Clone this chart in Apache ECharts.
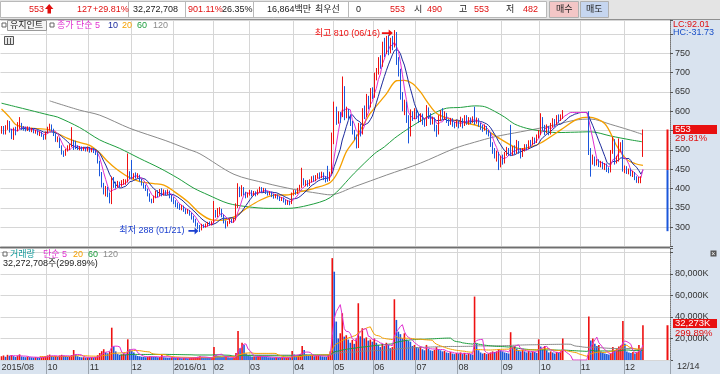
<!DOCTYPE html>
<html><head><meta charset="utf-8">
<script src="https://cdn.jsdelivr.net/npm/echarts@6/dist/echarts.min.js"></script>
<style>html,body{margin:0;padding:0;background:#fff}#c{width:720px;height:374px}</style>
</head><body><div id="c"></div>
<script>
// ---------------- DATA ----------------
// candles: [open, close, low, high] per trading day (2015-08-27 .. 2016-12-14)
const candles = [
[548,558,542,562],[558,545,540,562],[545,560,540,564],[560,570,552,577],[570,548,545,575],[548,534,528,555],[540,555,526,558],[555,545,538,560],[550,565,548,572],[558,566,555,585],
[566,557,552,570],[557,556,550,562],[556,552,548,560],[552,558,549,561],[558,550,547,560],[550,553,546,557],[553,547,543,556],[547,549,542,552],[549,541,538,551],[541,545,536,548],
[545,538,534,547],[538,530,526,540],[531,545,527,548],[545,556,543,560],[556,562,550,568],[562,552,548,566],[552,540,536,555],[540,528,521,543],[528,530,520,535],[530,510,505,532],
[510,495,488,512],[495,486,482,498],[488,500,485,503],[500,508,496,512],[505,512,500,515],[512,520,508,559],[520,505,500,526],[518,508,502,524],[508,503,500,512],[503,506,499,510],
[506,502,497,509],[502,504,498,508],[504,500,496,507],[500,505,496,509],[505,498,493,508],[498,502,494,506],[502,497,492,505],[497,491,487,500],[491,470,465,494],[470,440,432,472],
[440,410,403,443],[410,395,385,415],[395,402,380,407],[402,385,378,405],[385,370,362,390],[368,420,360,431],[420,410,402,430],[410,405,400,418],[405,412,403,420],[412,408,403,418],
[408,415,405,422],[415,418,410,425],[415,420,410,424],[420,440,416,491],[440,432,425,445],[432,428,424,474],[428,436,425,440],[436,430,426,442],[430,434,427,440],[434,422,418,436],
[422,412,408,425],[412,405,400,416],[405,398,394,410],[398,385,380,400],[385,370,366,388],[370,365,362,374],[366,378,363,382],[378,390,375,395],[390,383,378,396],[383,392,380,399],
[392,385,380,401],[385,393,382,398],[393,388,383,396],[388,392,384,398],[392,380,375,395],[380,372,366,384],[372,365,360,378],[365,360,352,370],[360,355,348,364],[355,350,345,360],
[350,352,344,358],[352,345,340,356],[345,340,334,349],[340,342,335,347],[342,335,330,345],[335,325,320,338],[325,318,312,330],[318,308,302,322],[308,300,295,312],[300,296,288,306],
[296,305,292,309],[305,302,298,308],[302,306,299,310],[306,310,302,314],[310,308,304,315],[308,312,305,316],[312,340,310,368],[340,330,325,345],[330,338,326,350],[338,345,333,352],
[345,330,326,348],[330,315,310,333],[315,305,297,318],[305,312,302,316],[312,318,309,322],[318,315,311,322],[315,320,312,325],[320,355,318,362],[355,395,350,414],[395,385,378,405],
[385,400,380,409],[400,388,383,404],[388,380,375,392],[380,386,377,390],[386,392,382,397],[392,384,380,396],[384,390,381,394],[390,385,380,393],[385,395,383,398],[395,400,390,405],
[400,394,390,404],[394,398,391,402],[398,390,386,401],[390,386,382,393],[386,390,383,393],[390,382,378,392],[382,378,374,386],[378,383,375,386],[383,376,372,385],[376,372,368,380],
[372,375,368,378],[375,368,364,377],[368,362,358,372],[362,366,358,370],[366,360,357,369],[362,385,360,390],[385,392,382,397],[392,388,384,396],[388,398,386,402],[398,405,395,410],
[405,420,402,454],[420,412,408,427],[412,418,406,422],[418,410,405,422],[410,420,407,424],[420,428,416,432],[428,422,418,434],[422,430,419,435],[430,436,426,440],[436,430,425,442],
[430,438,427,444],[438,428,422,442],[428,420,416,432],[435,425,418,459],[425,440,420,444],[442,525,438,545],[525,600,515,625],[600,575,565,612],[575,590,568,600],[590,580,570,598],
[590,675,585,690],[660,590,577,665],[590,600,582,612],[600,585,578,606],[585,570,562,592],[570,548,540,575],[548,535,525,552],[535,510,504,540],[512,560,505,570],[560,545,535,568],
[545,600,540,608],[600,590,580,615],[590,630,585,645],[630,615,605,640],[615,650,610,660],[650,640,632,662],[640,690,635,700],[690,700,680,712],[700,730,695,740],[730,720,710,745],
[720,770,715,780],[770,755,740,790],[755,785,748,795],[785,760,745,797],[760,780,750,790],[780,770,758,795],[770,800,765,810],[800,730,720,805],[730,700,690,740],[700,640,630,710],
[640,610,600,650],[610,620,590,630],[620,580,570,625],[580,540,517,590],[540,595,535,605],[595,585,575,600],[585,600,580,608],[600,590,580,605],[590,578,570,596],[578,590,572,595],
[590,575,565,594],[575,565,560,580],[565,605,562,616],[605,590,580,610],[590,572,565,595],[572,580,566,586],[580,560,548,584],[560,545,534,565],[545,580,540,590],[580,595,575,603],
[595,585,578,608],[585,592,578,600],[592,575,570,596],[575,570,562,580],[570,578,565,583],[578,568,560,582],[568,565,556,572],[565,572,560,578],[572,565,556,575],[565,578,560,586],
[578,565,556,582],[565,585,562,590],[585,572,565,590],[572,580,565,585],[580,575,567,584],[575,582,570,587],[585,572,565,612],[572,578,568,584],[578,565,560,582],[565,560,552,570],
[560,555,547,565],[555,560,550,566],[560,548,540,562],[548,540,535,552],[540,515,508,545],[515,500,490,520],[500,485,478,505],[485,492,470,498],[490,462,448,495],[462,480,455,485],
[480,470,462,488],[470,490,465,495],[490,500,485,508],[500,492,485,505],[560,490,484,565],[490,505,485,510],[505,495,488,512],[495,520,490,526],[520,500,490,523],[500,485,478,505],
[485,500,482,505],[500,510,496,515],[510,505,500,515],[505,520,502,525],[520,515,508,526],[515,528,512,534],[528,522,515,532],[522,535,518,540],[535,545,530,552],[545,580,539,595],
[580,560,550,585],[560,548,539,565],[548,560,543,566],[560,542,538,562],[542,565,540,570],[565,575,558,582],[575,568,560,580],[568,585,565,590],[585,578,570,592],[578,585,575,592],
[585,597,580,603],[597,597,597,597],[597,597,597,597],[597,597,597,597],[597,597,597,597],[597,597,597,597],[597,597,597,597],[597,597,597,597],[597,597,597,597],[597,597,597,597],
[597,597,597,597],[597,597,597,597],[597,597,597,597],[597,500,487,600],[500,470,431,505],[470,478,462,488],[478,465,458,483],[465,472,460,476],[472,462,456,476],[462,468,455,472],
[468,458,450,470],[458,462,448,466],[462,450,443,465],[450,444,440,455],[445,495,442,500],[495,525,490,534],[525,470,462,528],[470,478,465,485],[478,500,470,530],[500,515,495,520],
[520,450,444,526],[450,455,440,460],[455,445,438,458],[445,448,437,452],[448,438,432,452],[438,440,430,446],[440,428,422,443],[428,420,415,432],[420,425,414,430],[418,426,414,432],
[490,553,482,553]
];
// daily volume, thousand shares
const volumes = [
3500,4200,3000,4800,3900,4500,3600,2800,4100,5200, 3300,2900,2600,3100,2700,2500,2300,2600,2400,2200,
2500,2800,3400,4300,5000,3800,3200,3600,2900,4200, 4800,4100,3500,3000,3300,4500,9300,5200,3500,2800,
2500,2600,2300,2400,2200,2500,2300,2800,4500,6500, 8200,10000,7000,6200,7700,30000,12500,8000,5500,4800,
5200,6000,5500,19200,9900,8500,7000,4500,3800,3400, 3000,2800,2600,3000,3500,3200,3000,2800,2500,2700,
5000,2600,2400,2200,2100,2300,2000,1900,2100,1800, 1700,1900,1800,1600,1900,2200,2400,2600,3000,3500,
2800,2200,2000,1900,1800,2100,12000,4500,3800,3500, 3000,2700,3200,2500,2200,2000,2300,6500,27000,11000,
16000,14000,6000,4000,3500,3000,3200,2800,3500,4000, 3300,3000,2800,2600,2500,2400,2300,2500,2200,2100,
2300,2000,2200,2400,2100,8400,5000,3500,4000,5500, 13000,9300,5000,4000,3800,4200,3500,3800,4500,3600,
3300,3000,2800,4500,8000,94600,82000,35700,20000,24800, 43400,21700,23000,19000,16000,18600,15000,20000,52700,22000,
29500,20000,21000,18000,19000,17000,20000,16000,14000,12000, 15000,13000,16000,14000,11000,12000,56400,37200,26300,24000,
20000,24800,19000,18000,17000,13000,14000,12000,11000,12500, 10000,9000,14000,10500,9000,8500,9500,12000,10000,9000,
8000,8500,7000,6500,7500,6000,5500,6500,6000,7000, 5500,6500,5000,6000,5500,5000,58900,15000,9000,7000,
6000,6500,5500,6000,7000,8000,7500,8000,10000,9000, 8000,7000,6500,6000,25800,12000,13000,10500,9000,8000,
9500,8000,7000,8500,7000,8000,7500,6500,19200,12500, 10000,13000,9000,7000,8000,7000,6000,7500,6500,8000,
20000,0,0,0,0,0,0,0,0,0, 0,0,0,40300,18000,20000,15000,13000,14000,8000,
7000,6000,5500,5000,6000,12000,9000,11000,12500,13500, 36300,15000,8000,7000,6500,7500,6000,7000,14000,10761,
32273
];
// moving averages (they start before the visible window): [barIndex, value]
const ma20Pts = [[0,606],[4,585],[7,566],[12,558],[18,555],[24,552],[29,540],[33,530],[37,522],[44,512],[49,492],[53,470],[57,452],[63,431],[69,418],[76,413],[81,409],[86,393],[93,366],[99,336],[105,319],[109,318],[116,327],[123,352],[129,370],[136,383],[143,384],[149,392],[156,401],[164,416],[168,445],[172,495],[176,525],[180,560],[184,595],[188,620],[192,645],[197,679],[201,680],[205,672],[209,650],[213,620],[217,595],[222,583],[229,573],[239,560],[249,528],[259,503],[264,508],[269,518],[279,552],[287,579],[293,585],[301,568],[307,510],[312,475],[316,465],[320,460]];
const ma60Pts = [[0,621],[7,612],[14,603],[24,590],[28,585],[39,558],[49,526],[59,504],[69,478],[79,453],[88,427],[96,401],[103,384],[113,362],[123,353],[133,349],[143,349],[153,357],[164,377],[176,440],[186,490],[191,508],[196,530],[202,552],[208,572],[214,590],[222,608],[229,610],[236,614],[241,612],[246,600],[251,585],[256,567],[262,556],[268,550],[277,545],[286,546],[294,547],[304,536],[314,526],[320,521]];
const ma120Pts = [[24,627],[39,603],[49,590],[64,556],[82,524],[92,504],[99,490],[116,437],[132,414],[146,398],[158,388],[164,384],[176,405],[192,435],[209,466],[226,504],[236,520],[246,534],[259,547],[272,560],[286,577],[294,580],[304,566],[313,552],[320,540]];
// x-axis tick labels (month starts as bar indices)
const monthLabels = ['2015/08','10','11','12','2016/01','02','03','04','05','06','07','08','09','10','11','12'];
const monthStarts = [0,23,44,65,86,106,124,146,166,186,207,228,250,269,289,311];
const lastDateLabel = '12/14';
const priceTicks = [300,350,400,450,500,550,600,650,700,750];
const volTicks = [20000,40000,60000,80000];
const hiMark = {idx:196, value:810, text:'최고 810 (06/16)'};
const loMark = {idx:99, value:288, text:'최저 288 (01/21)'};
const sideRange = [553, 448, 290];
const lastPrice = 553, lastPct = '29.81%', lastVol = 32273, lastVolPct = '299.89%';
const headerItems = [
 [29,'553','r'],[77,'127','r'],[93,'+29.81%','r'],[133,'32,272,708','k'],[188,'901.11%','r'],[222,'26.35%','k'],
 [267,'16,864백만','k'],[315,'최우선','k'],[356,'0','k'],[390,'553','r'],[414,'시','k'],[427,'490','r'],
 [459,'고','k'],[474,'553','r'],[506,'저','k'],[523,'482','r']
];

// ---------------- CHART ----------------
const RED='#ee1111', BLUE='#1a56db', MAG='#e030d0', NAVY='#1c2a9c', ORG='#f5a000', GRN='#1e9e3e', GRY='#8a8a8a';
const FONT='"Liberation Sans","Noto Sans CJK KR",sans-serif';
const N_CAT = 334;
const cats = Array.from({length:N_CAT},(_,i)=>String(i));
const closes = candles.map(c=>c[1]);
function sma(arr,n){return arr.map((v,i)=>{if(i<n-1)return null;let s=0;for(let k=i-n+1;k<=i;k++)s+=arr[k];return +(s/n).toFixed(2);});}
function sparse(pts){const a=new Array(candles.length).fill(null);pts.forEach(p=>{a[p[0]]=p[1];});return a;}
const isMonth = i => monthStarts.indexOf(i) >= 0;
const isGrid = i => monthStarts.indexOf(i) > 0;
const line = (name,data,color,xi,yi,w,extra) => Object.assign({type:'line',name,data,xAxisIndex:xi,yAxisIndex:yi,showSymbol:false,symbol:'none',silent:true,lineStyle:{color,width:w},itemStyle:{color},connectNulls:true,animation:false,z:3},extra||{});
const arrowPath='path://M0,3L8,3L8,0L13,4L8,8L8,5L0,5Z';

const chart = echarts.init(document.getElementById('c'), null, {renderer:'canvas', width:720, height:374});
const option = {
 animation:false,
 backgroundColor:'#ffffff',
 textStyle:{fontFamily:FONT},
 grid:[
  {left:0.5,right:50,top:20,height:226.65,containLabel:false,outerBoundsMode:'none'},
  {left:0.5,right:50,top:248,height:112,containLabel:false,outerBoundsMode:'none'}
 ],
 xAxis:[
  {type:'category',gridIndex:0,data:cats,boundaryGap:true,axisLine:{show:false},axisTick:{show:false},axisLabel:{show:false},
   splitLine:{show:true,interval:(i)=>isGrid(i),lineStyle:{color:'#d6d6d6',width:1}}},
  {type:'category',gridIndex:1,data:cats,boundaryGap:true,axisLine:{show:false},
   axisTick:{show:true,interval:(i)=>isGrid(i),length:14,lineStyle:{color:'#9aa3ad',width:1}},
   axisLabel:{show:true,interval:(i)=>isMonth(i),formatter:(v,i)=>monthLabels[monthStarts.indexOf(Number(v))]||'',align:'left',margin:3,fontSize:9,color:'#333',fontFamily:FONT},
   splitLine:{show:true,interval:(i)=>isGrid(i),lineStyle:{color:'#d6d6d6',width:1}}}
 ],
 yAxis:[
  {type:'value',gridIndex:0,position:'right',min:250,max:836.1,interval:50,
   axisLine:{show:true,lineStyle:{color:'#777',type:'dotted'}},axisTick:{show:true,length:3,lineStyle:{color:'#555'}},
   axisLabel:{show:true,margin:5,fontSize:9,color:'#333',fontFamily:FONT,formatter:v=>priceTicks.indexOf(v)>=0?String(v):''},
   splitLine:{show:true,lineStyle:{color:'#d6d6d6',width:1}}},
  {type:'value',gridIndex:1,position:'right',min:0,max:104000,interval:20000,
   axisLine:{show:true,lineStyle:{color:'#777',type:'dotted'}},axisTick:{show:true,length:3,lineStyle:{color:'#555'}},
   axisLabel:{show:true,margin:5,fontSize:9,color:'#333',fontFamily:FONT,formatter:v=>volTicks.indexOf(v)>=0?v.toLocaleString('en-US')+'K':''},
   splitLine:{show:true,lineStyle:{color:'#d6d6d6',width:1}}}
 ],
 series:[
  {type:'candlestick',name:'price',xAxisIndex:0,yAxisIndex:0,data:candles,barWidth:1,silent:true,z:4,
   itemStyle:{color:RED,color0:BLUE,borderColor:RED,borderColor0:BLUE,borderColorDoji:RED,borderWidth:1},
   markPoint:{silent:true,animation:false,data:[
    {coord:[hiMark.idx,hiMark.value],symbol:arrowPath,symbolSize:[11,7],symbolOffset:[-7,3],itemStyle:{color:RED},
     label:{show:true,position:'left',distance:2,formatter:hiMark.text,color:RED,fontSize:9,fontFamily:FONT}},
    {coord:[loMark.idx,loMark.value],symbol:arrowPath,symbolSize:[10,7],symbolOffset:[-6.5,-1],itemStyle:{color:'#1a3fd0'},
     label:{show:true,position:'left',distance:4,formatter:loMark.text,color:'#1a3fd0',fontSize:9,fontFamily:FONT}}
   ]}},
  line('ma120',sparse(ma120Pts),GRY,0,0,1,{smooth:0.3}),
  line('ma60',sparse(ma60Pts),GRN,0,0,1,{smooth:0.3}),
  line('ma20',sparse(ma20Pts),ORG,0,0,1.3,{smooth:0.3}),
  line('ma10',sma(closes,10),NAVY,0,0,1),
  line('ma5',sma(closes,5),MAG,0,0,1),
  {type:'bar',name:'vol',xAxisIndex:1,yAxisIndex:1,barWidth:1.6,silent:true,z:2,
   data:volumes.map((v,i)=>({value:v,itemStyle:{color:(i===0||v>=volumes[i-1])?RED:BLUE}}))},
  line('v120',sma(volumes,120),GRY,1,1,1),
  line('v60',sma(volumes,60),GRN,1,1,1),
  line('v20',sma(volumes,20),ORG,1,1,1),
  line('v5',sma(volumes,5),MAG,1,1,1)
 ]
};
chart.setOption(option);

// --------- decorations (header, legends, side panel, tags) ---------
const py = v => chart.convertToPixel({yAxisIndex:0}, v);
const vy = v => chart.convertToPixel({yAxisIndex:1}, v);
const T = (x,y,text,fill,size,extra) => Object.assign({type:'text',x,y,z:100,silent:true,style:{text,fill,font:(size||9)+'px '+FONT,verticalAlign:'middle',align:'left'}},extra||{});
const R = (x,y,w,h,fill,z,stroke) => ({type:'rect',z:(z===undefined?-5:z),silent:true,shape:{x,y,width:w,height:h},style:{fill,stroke:stroke||null,lineWidth:stroke?1:0}});
const g = [];
// side panel & bottom strip
g.push(R(670,19,50,355,'#d9e3ef'));
g.push(R(0,360,720,14,'#d9e3ef'));
// header
g.push(R(0,0,720,19.5,'#e4e4e4'));
g.push(R(0.5,1.5,546,16,'#ffffff',-4,'#b9b9b9'));
[128,185,253,348].forEach(x=>g.push({type:'line',z:-3,silent:true,shape:{x1:x+0.5,y1:2,x2:x+0.5,y2:17},style:{stroke:'#b9b9b9',lineWidth:1}}));
g.push(R(549.5,1.5,29,16,'#f3c6c6',-4,'#b0b0b0'));
g.push(R(580.5,1.5,28,16,'#c6d6f0',-4,'#b0b0b0'));
g.push({type:'line',z:-3,silent:true,shape:{x1:0,y1:19.5,x2:720,y2:19.5},style:{stroke:'#8f8f8f',lineWidth:1}});
headerItems.forEach(h=>g.push(T(h[0],10,h[1],h[2]==='r'?'#e01010':'#1a1a1a',9)));
g.push({type:'polygon',z:100,silent:true,shape:{points:[[47.5,13.5],[47.5,9],[45,9],[49.2,4],[53.4,9],[51,9],[51,13.5]]},style:{fill:'#e01010'}});
g.push(T(556,10,'매수','#222',9));
g.push(T(586,10,'매도','#222',9));
// price legend
g.push(R(2,23,4,4,'#ffffff',100,'#666'));
g.push(R(7.5,20.5,39,10,'#f4f4f4',99,'#9a9a9a'));
g.push(T(10,25.5,'유지인트','#222',9));
g.push(R(50,23,4,4,'#ffffff',100,'#666'));
g.push(T(57,25.5,'종가 단순 5',MAG,9));
g.push(T(108,25.5,'10',NAVY,9));
g.push(T(122,25.5,'20',ORG,9));
g.push(T(137,25.5,'60',GRN,9));
g.push(T(153,25.5,'120',GRY,9));
// small table icon
g.push(R(4.5,36.5,9,8,'#e8e8e8',100,'#555'));
[7.5,10.5].forEach(x=>g.push({type:'line',z:101,silent:true,shape:{x1:x,y1:38,x2:x,y2:44},style:{stroke:'#555',lineWidth:1}}));
// volume legend
g.push(R(3,252,4,4,'#ffffff',100,'#666'));
g.push(T(10,254.5,'거래량','#139a9a',9));
g.push(T(43,254.5,'단순 5',MAG,9));
g.push(T(73,254.5,'20',ORG,9));
g.push(T(88,254.5,'60',GRN,9));
g.push(T(103,254.5,'120',GRY,9));
g.push(T(3,264,'32,272,708주(299.89%)','#222',9));
// separator between panes
g.push({type:'line',z:50,silent:true,shape:{x1:0,y1:247.5,x2:670,y2:247.5},style:{stroke:'#6e6e6e',lineWidth:1.5}});
// LC / HC
g.push(T(673,24.5,'LC:92.01','#e01010',9));
g.push(T(673,32.5,'HC:-31.73','#1a50c8',9));
// side range bar
const xb = 666.5;
g.push(R(xb,py(sideRange[0]),2,py(sideRange[1])-py(sideRange[0]),RED,60));
g.push(R(xb,py(sideRange[1]),2,py(sideRange[2])-py(sideRange[1]),BLUE,60));
g.push(R(xb,vy(lastVol),2,vy(0)-vy(lastVol),RED,60));
// price tag
const yp = py(lastPrice);
g.push(R(673,yp-4.5,44,9,'#e81010',90));
g.push(T(675,yp,String(lastPrice),'#ffffff',9.5));
g.push(T(675,yp+9,lastPct,'#e01010',9.5));
// volume tag
const yv = vy(lastVol)-1.8;
g.push(R(673,yv-4.5,44,9,'#e81010',90));
g.push(T(675,yv,lastVol.toLocaleString('en-US')+'K','#ffffff',9.5));
g.push(T(675,yv+9.5,lastVolPct,'#e01010',9.5));
// close icon in volume pane
g.push(R(710.5,250.5,6,6,'#555',100));
g.push(T(711.3,253.6,'×','#fff',7));
// last date
g.push(T(677,366.5,lastDateLabel,'#333',9));
chart.setOption({graphic:{elements:g}});
</script>
</body></html>
